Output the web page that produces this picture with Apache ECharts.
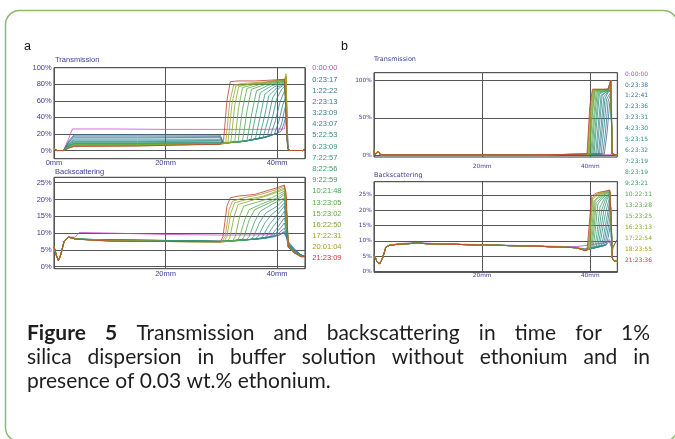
<!DOCTYPE html>
<html><head><meta charset="utf-8">
<script src="https://cdn.jsdelivr.net/npm/echarts@6/dist/echarts.min.js"></script>
<style>html,body{margin:0;padding:0;background:#fff}#c{width:675px;height:439px}</style>
</head><body><div id="c"></div>
<script>
// ---------- DATA ----------
const timesA = ['0:00:00','0:23:17','1:22:22','2:23:13','3:23:09','4:23:07','5:22:53','6:23:09','7:22:57','8:22:56','9:22:59','10:21:48','13:23:05','15:23:02','16:22:50','17:22:31','20:01:04','21:23:09'];
const timesB = ['0:00:00','0:23:38','1:22:41','2:23:36','3:23:31','4:23:30','5:23:15','6:23:32','7:23:19','8:23:19','9:23:21','10:22:11','13:23:28','15:23:25','16:23:13','17:22:54','18:23:55','21:23:36'];
const xTickLabels = [0, 20, 40];
const transTicksA = [0, 20, 40, 60, 80, 100];
const backTicks = [0, 5, 10, 15, 20, 25];
const transTicksB = [0, 50, 100];

// Panel a - Transmission (%), [position mm, value]
const transA = [
[[0,2],[0.6,0],[1.7,0],[2.6,14],[3.3,26],[10,26],[20,25.5],[30,25.5],[38,25.5],[41.3,26],[41.6,36],[41.8,25],[42,2],[42.4,0],[44.6,0],[45,2]],
[[0,2],[0.6,0],[1.7,0],[2.7,12],[3.6,19],[15,19],[29.8,18.5],[30.4,9],[34,11],[38,16],[40.7,23],[41.2,32],[41.5,40],[41.8,30],[42,2],[42.4,0],[44.6,0],[45,2]],
[[0,2],[0.6,0],[1.7,0],[2.7,10.5],[3.6,17.5],[15,17.5],[29.8,17],[30.4,9],[34,11],[38,16],[40.1,21],[40.8,32],[41.3,48],[41.6,55],[41.9,2],[42.3,0],[44.6,0],[45,2]],
[[0,2],[0.6,0],[1.7,0],[2.7,10],[3.6,16],[15,16],[29.8,15.5],[30.4,9],[34,11],[37,14.5],[39.5,19.5],[40.3,35],[41,55],[41.4,62],[41.6,66],[41.9,2],[42.3,0],[44.6,0],[45,2]],
[[0,2],[0.6,0],[1.7,0],[2.7,8.5],[3.6,14],[15,14],[29.8,13.5],[30.4,9],[34,11],[37,14.5],[38.8,18],[39.7,36],[40.5,58],[41.2,70],[41.6,74],[41.9,2],[42.3,0],[44.6,0],[45,2]],
[[0,2],[0.6,0],[1.7,0],[2.7,7.5],[3.6,12.5],[15,12.5],[29.8,12],[30.4,9],[34,11],[38.2,17],[39.1,38],[39.9,62],[40.8,74],[41.4,78],[41.6,80],[41.9,2],[42.3,0],[44.6,0],[45,2]],
[[0,2],[0.6,0],[1.7,0],[2.7,7],[3.6,11],[15,11],[29.8,10.5],[30.4,9],[34,11],[37.5,16],[38.4,38],[39.2,64],[40.3,75],[41.4,80],[41.6,82],[41.9,2],[42.3,0],[44.6,0],[45,2]],
[[0,2],[0.6,0],[1.7,0],[2.7,6],[3.6,10],[15,10],[29.8,9.5],[30.4,9],[34,11],[36.8,15],[37.7,40],[38.5,66],[40,76],[41.4,81],[41.6,83],[41.9,2],[42.3,0],[44.6,0],[45,2]],
[[0,2],[0.6,0],[1.7,0],[2.7,5.5],[3.6,9],[15,9],[30,9],[34,11],[36.1,14],[37,42],[37.8,68],[39.5,77],[41.4,82],[41.6,84],[41.9,2],[42.3,0],[44.6,0],[45,2]],
[[0,2],[0.6,0],[1.7,0],[2.7,5],[3.6,8.5],[15,8.5],[30,9],[35.3,12.5],[36.2,44],[37,70],[39,78],[41.4,83],[41.6,85],[41.9,2],[42.3,0],[44.6,0],[45,2]],
[[0,2],[0.6,0],[1.7,0],[2.7,5],[3.6,8],[15,8],[30,8.5],[34.6,12],[35.5,46],[36.3,72],[38.5,79],[41.4,84],[41.6,86],[41.9,2],[42.3,0],[44.6,0],[45,2]],
[[0,2],[0.6,0],[1.7,0],[2.7,4.5],[3.6,7.5],[15,7.5],[30,8.5],[33.8,11],[34.6,48],[35.4,74],[38,80],[41.4,84],[41.6,86],[41.9,2],[42.3,0],[44.6,0],[45,2]],
[[0,2],[0.6,0],[1.7,0],[2.7,4.5],[3.6,7],[15,7],[30,8],[33,10.5],[33.8,50],[34.6,75],[37,80],[41.4,85],[41.6,87],[41.9,2],[42.3,0],[44.6,0],[45,2]],
[[0,2],[0.6,0],[1.7,0],[2.7,4],[3.6,6.5],[15,7],[30,8],[32.4,10],[33.1,52],[33.8,76],[36,80],[41.4,85],[41.6,88],[41.9,2],[42.3,0],[44.6,0],[45,2]],
[[0,2],[0.6,0],[1.7,0],[2.7,4],[3.6,6],[15,6.5],[30,8],[31.7,10],[32.4,54],[33.1,77],[35,80],[38,82],[41.4,85],[41.6,90],[41.9,2],[42.3,0],[44.6,0],[45,2]],
[[0,2],[0.6,0],[1.7,0],[2.7,3.5],[3.6,5.5],[15,6],[30,8],[31.2,10],[31.9,56],[32.6,78],[34.5,80],[38,82],[41.4,86],[41.6,93],[41.9,2],[42.3,0],[44.6,0],[45,2]],
[[0,2],[0.6,0],[1.7,0],[2.7,3],[3.6,5],[15,5.5],[30,8],[30.8,10],[31.5,58],[32.2,79],[34,81],[38,83],[41.4,86],[41.6,90],[41.9,2],[42.3,0],[44.6,0],[45,2]],
[[0,2],[0.6,0],[1.7,0],[2.7,3],[3.6,5],[15,5.5],[29.8,7.5],[30.4,12],[31,60],[31.6,83],[33,84],[36,84],[39,85],[41.3,86],[41.6,88],[41.9,2],[42.3,0],[44.6,0],[45,2]]
];

// Panel a - Backscattering (%)
const backA = [
[[0,6],[0.4,3.5],[0.8,1.8],[1.2,3.5],[1.8,7.5],[2.6,8.8],[3.8,8.8],[4.5,10.2],[10,10],[20,9.6],[30,9.4],[38,9.5],[41.2,10],[41.6,9],[42,6.5],[42.5,6],[43.3,4.8],[44.3,3.5],[45,3]],
[[0,6],[0.4,3.5],[0.8,1.8],[1.2,3.5],[1.8,7.5],[2.6,8.8],[4,8.2],[10,8],[20,7.8],[30,7.6],[36,8.2],[40.5,9.5],[41.3,10.2],[41.6,9],[42,7.5],[42.5,6.5],[43,5.5],[43.6,4.5],[44.3,3.5],[45,3]],
[[0,6],[0.4,3.5],[0.8,1.8],[1.2,3.5],[1.8,7.5],[2.6,8.8],[4,8.2],[10,8],[20,7.8],[30,7.6],[36,8.2],[40.2,9.2],[41.3,10.5],[41.6,9.5],[42,7.2],[42.5,6.2],[43,5.2],[43.6,4.3],[44.3,3.5],[45,3]],
[[0,6],[0.4,3.5],[0.8,1.8],[1.2,3.5],[1.8,7.5],[2.6,8.8],[4,8.2],[10,8],[20,7.8],[30,7.5],[36,8.2],[39.5,8.9],[40.3,10],[41.3,11.5],[41.6,10],[42,7],[42.5,6],[43.2,4.8],[44.3,3.5],[45,3]],
[[0,6],[0.4,3.5],[0.8,1.8],[1.2,3.5],[1.8,7.5],[2.6,8.8],[4,8.2],[10,8],[20,7.8],[30,7.5],[36,8.2],[38.8,8.7],[39.5,9.5],[40.6,11.5],[41.3,13],[41.6,11],[42,6.8],[42.5,5.8],[43.2,4.6],[44.3,3.4],[45,3]],
[[0,6],[0.4,3.5],[0.8,1.8],[1.2,3.5],[1.8,7.5],[2.6,8.8],[4,8.2],[10,7.9],[20,7.7],[30,7.5],[36,8.2],[38.2,8.5],[38.8,9],[40,11.5],[41.3,14.5],[41.6,12],[42,6.5],[42.5,5.6],[43.2,4.5],[44.3,3.4],[45,3]],
[[0,6],[0.4,3.5],[0.8,1.8],[1.2,3.5],[1.8,7.5],[2.6,8.8],[4,8.2],[10,7.9],[20,7.7],[30,7.5],[36,8.2],[37.5,8.4],[38.1,9],[39.3,12],[40.5,14.5],[41.3,16.5],[41.6,13],[42,6.5],[42.5,5.5],[43.2,4.4],[44.3,3.3],[45,3]],
[[0,6],[0.4,3.5],[0.8,1.8],[1.2,3.5],[1.8,7.5],[2.6,8.8],[4,8.2],[10,7.9],[20,7.7],[30,7.5],[36.8,8.3],[37.4,9],[38.6,12.5],[39.8,15],[41.3,18],[41.6,14],[42,6.2],[42.5,5.4],[43.2,4.3],[44.3,3.3],[45,3]],
[[0,6],[0.4,3.5],[0.8,1.8],[1.2,3.5],[1.8,7.5],[2.6,8.8],[4,8.2],[10,7.8],[20,7.6],[30,7.5],[36,8.2],[36.6,9],[37.8,13],[39,15.5],[40.5,17.5],[41.3,19],[41.6,15],[42,6.2],[42.5,5.3],[43.2,4.2],[44.3,3.2],[45,3]],
[[0,6],[0.4,3.5],[0.8,1.8],[1.2,3.5],[1.8,7.5],[2.6,8.8],[4,8.2],[10,7.8],[20,7.6],[30,7.5],[35.2,8],[35.8,9],[36.8,13],[38,16],[40,18],[41.3,20],[41.6,16],[42,6],[42.5,5.2],[43.2,4.1],[44.3,3.2],[45,3]],
[[0,6],[0.4,3.5],[0.8,1.8],[1.2,3.5],[1.8,7.5],[2.6,8.8],[4,8.2],[10,7.8],[20,7.6],[30,7.5],[34.4,7.9],[35,9],[36,13.5],[37,16.5],[39,18.5],[41.3,20.5],[41.6,17],[42,6],[42.5,5.2],[43.2,4.1],[44.3,3.1],[45,3]],
[[0,6],[0.4,3.5],[0.8,1.8],[1.2,3.5],[1.8,7.5],[2.6,8.8],[4,8.2],[10,7.8],[20,7.6],[30,7.5],[33.6,7.8],[34.1,9],[35,14],[36,17],[38,18.5],[40.5,20.5],[41.3,21.5],[41.6,18],[42,6],[42.5,5.1],[43.2,4],[44.3,3.1],[45,3]],
[[0,6],[0.4,3.5],[0.8,1.8],[1.2,3.5],[1.8,7.5],[2.6,8.8],[4,8.2],[10,7.7],[20,7.5],[30,7.4],[32.8,7.7],[33.3,9],[34.2,14],[35,17],[37,18.5],[40,20.5],[41.3,22],[41.6,19],[42,6],[42.5,5],[43.2,4],[44.3,3.1],[45,3]],
[[0,6],[0.4,3.5],[0.8,1.8],[1.2,3.5],[1.8,7.5],[2.6,8.8],[4,8.2],[10,7.7],[20,7.5],[30,7.4],[32,7.6],[32.5,9],[33.3,15],[34,18],[36,19],[39,20.5],[41.3,22.5],[41.6,19],[42,5.8],[42.5,5],[43.2,4],[44.3,3],[45,3]],
[[0,6],[0.4,3.5],[0.8,1.8],[1.2,3.5],[1.8,7.5],[2.6,8.8],[4,8.2],[10,7.7],[20,7.5],[30,7.4],[31,7.5],[31.5,8.5],[32.3,15],[33,18.5],[35,19.5],[38,21],[40.5,22.5],[41.3,23],[41.6,20],[42,5.8],[42.5,5],[43.2,4],[44.3,3],[45,3]],
[[0,6],[0.4,3.5],[0.8,1.8],[1.2,3.5],[1.8,7.5],[2.6,8.8],[4,8.2],[10,7.7],[20,7.5],[30,7.4],[30.5,7.5],[31,9],[31.7,16],[32.4,19],[34.5,20],[37.5,21],[40,22.5],[41.3,23.5],[41.6,20],[42,5.8],[42.5,5],[43.2,4],[44.3,3],[45,3]],
[[0,6],[0.4,3.5],[0.8,1.8],[1.2,3.5],[1.8,7.5],[2.6,8.8],[4,8.2],[10,7.6],[20,7.5],[30,7.4],[30.7,9],[31.4,17],[32,19.5],[34,20.5],[37,21.5],[40,23],[41.3,24],[41.6,21],[42,5.8],[42.5,5],[43.2,4],[44.3,3],[45,3]],
[[0,6],[0.4,3.5],[0.8,1.8],[1.2,3.5],[1.8,7.5],[2.6,8.8],[4,8.2],[10,7.6],[20,7.5],[29.8,7.4],[30.3,9],[31,18],[31.6,20.5],[33,21],[36,21.5],[38,22.5],[40,23.5],[41.3,24.3],[41.6,22],[42,5.8],[42.5,5],[43.2,4],[44.3,3],[45,3]]
];

// Panel b - Transmission (%)
const transB = [
[[0,8],[0.05,1],[0.4,1],[0.8,5],[1.2,1],[10,1],[20,1],[30,1],[38,1],[43.9,1],[44,28],[44.1,1],[45,0.5]],
[[0,8],[0.05,1],[0.4,1],[0.8,5],[1.2,1],[10,1],[20,1],[30,1],[38,1.5],[42.6,2],[43.1,30],[43.6,70],[43.9,80],[44.05,2],[44.3,0.5],[45,0.5]],
[[0,8],[0.05,1],[0.4,1],[0.8,5],[1.2,1],[10,1],[20,1],[30,1],[38,1.5],[42.3,2],[42.8,30],[43.3,72],[43.8,82],[44.05,2],[44.3,0.5],[45,0.5]],
[[0,8],[0.05,1],[0.4,1],[0.8,5],[1.2,1],[10,1],[20,1],[30,1],[38,1.5],[42,2],[42.5,35],[43,75],[43.8,84],[44.05,2],[44.3,0.5],[45,0.5]],
[[0,8],[0.05,1],[0.4,1],[0.8,5],[1.2,1],[10,1],[20,1],[30,1],[38,1.5],[41.7,2],[42.2,35],[42.7,75],[43.3,84],[43.8,86],[44.05,2],[44.3,0.5],[45,0.5]],
[[0,8],[0.05,1],[0.4,1],[0.8,5],[1.2,1],[10,1],[20,1],[30,1],[38,1.5],[41.5,2],[42,38],[42.5,78],[43.3,85],[43.8,87],[44.05,2],[44.3,0.5],[45,0.5]],
[[0,8],[0.05,1],[0.4,1],[0.8,5],[1.2,1],[10,1],[20,1],[30,1],[38,1.5],[41.2,2],[41.7,40],[42.2,80],[43.3,86],[43.8,88],[44.05,2],[44.3,0.5],[45,0.5]],
[[0,8],[0.05,1],[0.4,1],[0.8,5],[1.2,1],[10,1],[20,1],[30,1],[38,1.5],[41,2],[41.5,42],[42,80],[43.3,86],[43.8,90],[44.05,2],[44.3,0.5],[45,0.5]],
[[0,8],[0.05,1],[0.4,1],[0.8,5],[1.2,1],[10,1],[20,1],[30,1],[38,1.5],[40.7,2],[41.2,45],[41.7,82],[43.3,87],[43.8,92],[44.05,2],[44.3,0.5],[45,0.5]],
[[0,8],[0.05,1],[0.4,1],[0.8,5],[1.2,1],[10,1],[20,1],[30,1],[38,1.5],[40.5,2],[41,45],[41.5,83],[43.3,87],[43.8,94],[44.05,2],[44.3,0.5],[45,0.5]],
[[0,8],[0.05,1],[0.4,1],[0.8,5],[1.2,1],[10,1],[20,1],[30,1],[38,1.5],[40.3,2],[40.8,50],[41.3,84],[43.3,87],[43.8,96],[44.05,2],[44.3,0.5],[45,0.5]],
[[0,8],[0.05,1],[0.4,1],[0.8,5],[1.2,1],[10,1],[20,1],[30,1],[38,1.5],[40.1,2],[40.6,50],[41.1,85],[43.3,87],[43.8,97],[44.05,2],[44.3,0.5],[45,0.5]],
[[0,8],[0.05,1],[0.4,1],[0.8,5],[1.2,1],[10,1],[20,1],[30,1],[38,1.5],[39.9,2],[40.4,55],[40.9,86],[43.3,88],[43.8,98],[44.05,2],[44.3,0.5],[45,0.5]],
[[0,8],[0.05,1],[0.4,1],[0.8,5],[1.2,1],[10,1],[20,1],[30,1],[38,1.5],[39.8,2],[40.3,55],[40.8,86],[43.3,88],[43.8,99],[44.05,2],[44.3,0.5],[45,0.5]],
[[0,8],[0.05,1],[0.4,1],[0.8,5],[1.2,1],[10,1],[20,1],[30,1],[38,1.5],[39.7,2],[40.2,60],[40.7,87],[43.3,88],[43.8,100],[44.05,2],[44.3,0.5],[45,0.5]],
[[0,8],[0.05,1],[0.4,1],[0.8,5],[1.2,1],[10,1],[20,1],[30,1],[38,1.5],[39.6,2],[40.1,60],[40.6,87],[43.3,88],[43.8,100],[44.05,2],[44.3,0.5],[45,0.5]],
[[0,8],[0.05,1],[0.4,1],[0.8,5],[1.2,1],[10,1],[20,1],[30,1],[38,1.5],[39.5,2],[40,62],[40.5,88],[43.3,88],[43.8,100],[44.05,2],[44.3,0.5],[45,0.5]],
[[0,8],[0.05,1],[0.4,1],[0.8,5],[1.2,1],[10,1],[20,1],[30,1],[38,1.5],[39.4,2],[39.9,65],[40.4,88],[43.3,88],[43.8,100],[44.05,2],[44.3,0.5],[45,0.5]]
];

// Panel b - Backscattering (%)
const backB = [
[[0,5.5],[0.5,3.5],[1,2.5],[1.5,4],[2.2,8],[3,8.7],[5,9.2],[8,9.5],[11,9.2],[15,9],[20,8.8],[25,8.6],[30,8.4],[35,8.2],[37.5,8.2],[39,8.5],[43,9.5],[43.5,10.5],[43.9,9],[44.1,7],[44.5,9],[45,10.5]],
[[0,5.5],[0.5,3.5],[1,2.5],[1.5,4],[2.2,8],[3,8.7],[5,9],[8,9.3],[11,9],[15,8.9],[20,8.7],[25,8.5],[30,8.3],[35,8],[37.5,7.8],[39,7.5],[43,8.8],[43.5,10],[43.8,10.5],[44,7.5],[44.3,8],[45,10.5]],
[[0,5.5],[0.5,3.5],[1,2.5],[1.5,4],[2.2,8],[3,8.7],[5,9],[8,9.3],[11,9],[15,8.9],[20,8.7],[25,8.5],[30,8.3],[35,8],[37.5,7.8],[39,7],[42.9,8.6],[43.3,11],[43.7,15],[43.9,17],[44.05,4.5],[44.4,3.5],[45,3.5]],
[[0,5.5],[0.5,3.5],[1,2.5],[1.5,4],[2.2,8],[3,8.7],[5,9],[8,9.3],[11,9],[15,8.9],[20,8.7],[25,8.5],[30,8.3],[35,8],[37.5,7.8],[39,7],[42.6,8.5],[43,11],[43.5,16],[43.8,20],[44.05,4.5],[44.4,3.5],[45,3.5]],
[[0,5.5],[0.5,3.5],[1,2.5],[1.5,4],[2.2,8],[3,8.7],[5,9],[8,9.3],[11,9],[15,8.9],[20,8.7],[25,8.5],[30,8.3],[35,8],[37.5,7.8],[39,7],[42.3,8.4],[42.7,11],[43.3,17],[43.7,22],[44.05,4.5],[44.4,3.5],[45,3.5]],
[[0,5.5],[0.5,3.5],[1,2.5],[1.5,4],[2.2,8],[3,8.7],[5,9],[8,9.3],[11,9],[15,8.9],[20,8.7],[25,8.5],[30,8.3],[35,8],[37.5,7.8],[39,7],[42,8.3],[42.4,11],[43,17],[43.6,23],[44.05,4.5],[44.4,3.5],[45,3.5]],
[[0,5.5],[0.5,3.5],[1,2.5],[1.5,4],[2.2,8],[3,8.7],[5,9],[8,9.3],[11,9],[15,8.9],[20,8.7],[25,8.5],[30,8.3],[35,8],[37.5,7.8],[39,7],[41.7,8.2],[42.1,12],[42.8,19],[43.6,24.5],[44.05,4.5],[44.4,3.5],[45,3.5]],
[[0,5.5],[0.5,3.5],[1,2.5],[1.5,4],[2.2,8],[3,8.7],[5,9],[8,9.3],[11,9],[15,8.9],[20,8.7],[25,8.5],[30,8.3],[35,8],[37.5,7.8],[39,7],[41.4,8.1],[41.8,12],[42.5,20],[43.1,23.5],[43.6,25],[43.85,18],[44.05,4.5],[44.4,3.5],[45,3.5]],
[[0,5.5],[0.5,3.5],[1,2.5],[1.5,4],[2.2,8],[3,8.7],[5,9],[8,9.3],[11,9],[15,8.9],[20,8.7],[25,8.5],[30,8.3],[35,8],[37.5,7.8],[39,7],[41.1,8],[41.5,12],[42.1,20],[42.8,23.5],[43.6,25.2],[43.85,18],[44.05,4.5],[44.4,3.5],[45,3.5]],
[[0,5.5],[0.5,3.5],[1,2.5],[1.5,4],[2.2,8],[3,8.7],[5,9],[8,9.3],[11,9],[15,8.9],[20,8.7],[25,8.5],[30,8.3],[35,8],[37.5,7.8],[39,7],[40.8,7.9],[41.2,12],[41.8,21],[42.5,23.5],[43.6,25.5],[43.85,18],[44.05,4.5],[44.4,3.5],[45,3.5]],
[[0,5.5],[0.5,3.5],[1,2.5],[1.5,4],[2.2,8],[3,8.7],[5,9],[8,9.3],[11,9],[15,8.9],[20,8.7],[25,8.5],[30,8.3],[35,8],[37.5,7.8],[39,7],[40.5,7.8],[40.9,13],[41.4,22],[42,23.5],[43,25],[43.6,25.7],[43.85,18],[44.05,4.5],[44.4,3.5],[45,3.5]],
[[0,5.5],[0.5,3.5],[1,2.5],[1.5,4],[2.2,8],[3,8.7],[5,9],[8,9.3],[11,9],[15,8.9],[20,8.7],[25,8.5],[30,8.3],[35,8],[37.5,7.8],[39,7],[40.3,7.7],[40.7,14],[41.1,22.5],[42,24],[43,25.5],[43.6,26],[43.85,18],[44.05,4.5],[44.4,3.5],[45,3.5]],
[[0,5.5],[0.5,3.5],[1,2.5],[1.5,4],[2.2,8],[3,8.7],[5,9],[8,9.3],[11,9],[15,8.9],[20,8.7],[25,8.5],[30,8.3],[35,8],[37.5,7.8],[39,7],[40.1,7.6],[40.5,14],[40.9,23],[41.5,24],[43,25.5],[43.6,26],[43.85,18],[44.05,4.5],[44.4,3.5],[45,3.5]],
[[0,5.5],[0.5,3.5],[1,2.5],[1.5,4],[2.2,8],[3,8.7],[5,9],[8,9.3],[11,9],[15,8.9],[20,8.7],[25,8.5],[30,8.3],[35,8],[37.5,7.8],[39,7],[39.9,7.5],[40.3,14],[40.7,23],[41.5,24.5],[43,25.8],[43.6,26.2],[43.85,18],[44.05,4.5],[44.4,3.5],[45,3.5]],
[[0,5.5],[0.5,3.5],[1,2.5],[1.5,4],[2.2,8],[3,8.7],[5,9],[8,9.3],[11,9],[15,8.9],[20,8.7],[25,8.5],[30,8.3],[35,8],[37.5,7.8],[39,7],[39.7,7.3],[40.1,14],[40.5,23.5],[41,24.5],[42,25.3],[43,26],[43.6,26.3],[43.85,18],[44.05,4.5],[44.4,3.5],[45,3.5]],
[[0,5.5],[0.5,3.5],[1,2.5],[1.5,4],[2.2,8],[3,8.7],[5,9],[8,9.3],[11,9],[15,8.9],[20,8.7],[25,8.5],[30,8.3],[35,8],[37.5,7.8],[39,7],[39.6,7.2],[40,14],[40.4,24],[41,25],[42,25.5],[43,26],[43.6,26.4],[43.85,18],[44.05,4.5],[44.4,3.5],[45,3.5]],
[[0,5.5],[0.5,3.5],[1,2.5],[1.5,4],[2.2,8],[3,8.7],[5,9],[8,9.3],[11,9],[15,8.9],[20,8.7],[25,8.5],[30,8.3],[35,8],[37.5,7.8],[39,7],[39.5,7],[39.9,14],[40.3,24],[41,25],[42,25.8],[43,26.2],[43.6,26.5],[43.85,18],[44.05,4.5],[44.4,3.5],[45,3.5]],
[[0,5.5],[0.5,3.5],[1,2.5],[1.5,4],[2.2,8],[3,8.7],[5,9],[8,9.3],[11,9],[15,8.9],[20,8.7],[25,8.5],[30,8.3],[35,8],[37.5,7.8],[39,6.8],[39.4,7],[39.8,15],[40.2,24.5],[41,25.5],[42,26],[43,26.3],[43.6,26.6],[43.85,18],[44.05,4.5],[44.4,3.5],[45,3.5]]
];

const captionLines = [
  ['Figure', '5', 'Transmission', 'and', 'backscattering', 'in', 'time', 'for', '1%'],
  ['silica', 'dispersion', 'in', 'buffer', 'solution', 'without', 'ethonium', 'and', 'in'],
  ['presence', 'of', '0.03', 'wt.%', 'ethonium.']
];

// ---------- STYLE ----------
const palette = ['#c94ac9','#3f6f95','#3a7595','#387c93','#36828f','#34888b','#338d87','#339282','#36977a','#3a9c70','#40a064','#4ca656','#5aa84a','#6aaa3e','#80aa34','#98a82c','#a89a24','#c23a36'];
const navy = '#3d3d96';
const gridCol = '#555';

const panels = [
  { lines: transA, names: timesA, ticks: transTicksA, frame: [54, 67.7, 251, 91], data: [54, 67.7, 251, 82.8], yMax: 100, yInt: 20, showZero: true, font: 'Liberation Sans', fs: 7.5, xMargin: 0.5 },
  { lines: backA, names: timesA, ticks: backTicks, frame: [54, 177.3, 251, 91.4], data: [54, 177.3, 251, 89.4], yMax: 26.6, yInt: 5, showZero: false, font: 'Liberation Sans', fs: 7.5, xMargin: 1.5 },
  { lines: transB, names: timesB, ticks: transTicksB, frame: [374, 72.7, 243.3, 84.3], data: [374, 72.7, 243.3, 82.8], yMax: 110, yInt: 50, showZero: false, font: 'DejaVu Sans', fs: 5.8, xMargin: 6.5 },
  { lines: backB, names: timesB, ticks: backTicks, frame: [374, 181.7, 243.3, 90.6], data: [374, 181.7, 243.3, 90], yMax: 29.3, yInt: 5, showZero: false, font: 'DejaVu Sans', fs: 5.8, xMargin: 0.5 }
];

const grid = [], xAxis = [], yAxis = [], series = [];
panels.forEach((p, k) => {
  const fi = k * 2, di = k * 2 + 1;
  grid.push({ left: p.frame[0], top: p.frame[1], width: p.frame[2], height: p.frame[3], show: true, borderColor: '#333', borderWidth: 1, backgroundColor: 'transparent' });
  grid.push({ left: p.data[0], top: p.data[1], width: p.data[2], height: p.data[3], show: false });
  xAxis.push({
    type: 'value', gridIndex: fi, min: 0, max: 45, interval: 20,
    axisLine: { show: false }, axisTick: { show: false },
    splitLine: { show: true, lineStyle: { color: gridCol, width: 1 } },
    axisLabel: { margin: p.xMargin, fontSize: p.fs, fontFamily: p.font, color: navy,
      formatter: v => (xTickLabels.indexOf(v) >= 0 && (v !== 0 || p.showZero)) ? v + 'mm' : '' }
  });
  xAxis.push({ type: 'value', gridIndex: di, min: 0, max: 45, show: false });
  yAxis.push({ type: 'value', gridIndex: fi, min: 0, max: 1, show: false });
  yAxis.push({
    type: 'value', gridIndex: di, min: 0, max: p.yMax, interval: p.yInt,
    axisLine: { show: false }, axisTick: { show: false },
    splitLine: { show: true, lineStyle: { color: gridCol, width: 1 } },
    axisLabel: { margin: 2.3, fontSize: p.fs, fontFamily: p.font, color: navy,
      formatter: v => p.ticks.indexOf(v) >= 0 ? v + '%' : '' }
  });
  p.lines.forEach((d, i) => {
    series.push({
      type: 'line', name: p.names[i], xAxisIndex: di, yAxisIndex: di, data: d,
      symbol: 'none', showSymbol: false, silent: true, clip: false,
      lineStyle: { width: 0.8, color: palette[i] }, itemStyle: { color: palette[i] }, z: 3
    });
  });
});

// ---------- CAPTION (justified) ----------
const ctx = document.createElement('canvas').getContext('2d');
const capFamily = 'Lato';
function wWidth(t, size, bold) { ctx.font = (bold ? 'bold ' : '') + size + 'px ' + capFamily; return ctx.measureText(t).width; }
const refW = wWidth(captionLines[2].join(' '), 100, false);
const capSize = Math.round(100 * 304 / refW * 10) / 10;
const capLeft = 27, capRight = 650, capYs = [333, 357, 381];
const graphic = [{
  type: 'rect', shape: { x: 5.5, y: 10.5, width: 672, height: 431, r: 14 },
  style: { fill: 'none', stroke: '#8cbb6c', lineWidth: 1.5 }, silent: true
}];
captionLines.forEach((words, li) => {
  const bolds = words.map((w, wi) => li === 0 && wi < 2);
  const widths = words.map((w, wi) => wWidth(w, capSize, bolds[wi]));
  const total = widths.reduce((a, b) => a + b, 0);
  const gap = li < 2 ? (capRight - capLeft - total) / (words.length - 1) : wWidth(' ', capSize, false);
  let x = capLeft;
  words.forEach((w, wi) => {
    graphic.push({ type: 'text', x: x, y: capYs[li], silent: true,
      style: { text: w, fontSize: capSize, fontFamily: capFamily, fontWeight: bolds[wi] ? 'bold' : 'normal', fill: '#1e1e1e', verticalAlign: 'middle', align: 'left' } });
    x += widths[wi] + gap;
  });
});

const legendCommon = { orient: 'vertical', icon: 'none', itemWidth: 0, itemHeight: 8, padding: 0, selectedMode: false, align: 'left' };
const legend = [
  Object.assign({}, legendCommon, { left: 307.3, top: 64.3, itemGap: 3.18,
    textStyle: { fontSize: 7.5, fontFamily: 'Liberation Sans', lineHeight: 8 },
    data: timesA.map((n, i) => ({ name: n, textStyle: { color: palette[i] } })) }),
  Object.assign({}, legendCommon, { left: 620, top: 70, itemGap: 2.94,
    textStyle: { fontSize: 6, fontFamily: 'DejaVu Sans', lineHeight: 8 },
    data: timesB.map((n, i) => ({ name: n, textStyle: { color: palette[i] } })) })
];

const titleStyle = (fs, fam, col) => ({ fontSize: fs, fontFamily: fam, color: col, fontWeight: 'normal' });
const title = [
  { text: 'a', left: 24, top: 40, padding: 0, textStyle: titleStyle(12.5, 'Liberation Sans', '#111') },
  { text: 'b', left: 341, top: 40, padding: 0, textStyle: titleStyle(12.5, 'Liberation Sans', '#111') },
  { text: 'Transmission', left: 55, top: 56, padding: 0, textStyle: titleStyle(7.5, 'Liberation Sans', navy) },
  { text: 'Backscattering', left: 55, top: 168, padding: 0, textStyle: titleStyle(7.5, 'Liberation Sans', navy) },
  { text: 'Transmission', left: 374, top: 55.5, padding: 0, textStyle: titleStyle(6.5, 'DejaVu Sans', navy) },
  { text: 'Backscattering', left: 374, top: 171.5, padding: 0, textStyle: titleStyle(6.5, 'DejaVu Sans', navy) }
];

const chart = echarts.init(document.getElementById('c'), null, { renderer: 'canvas' });
chart.setOption({
  backgroundColor: '#fff', animation: false,
  title, legend, grid, xAxis, yAxis, series, graphic
});
</script>
</body></html>
